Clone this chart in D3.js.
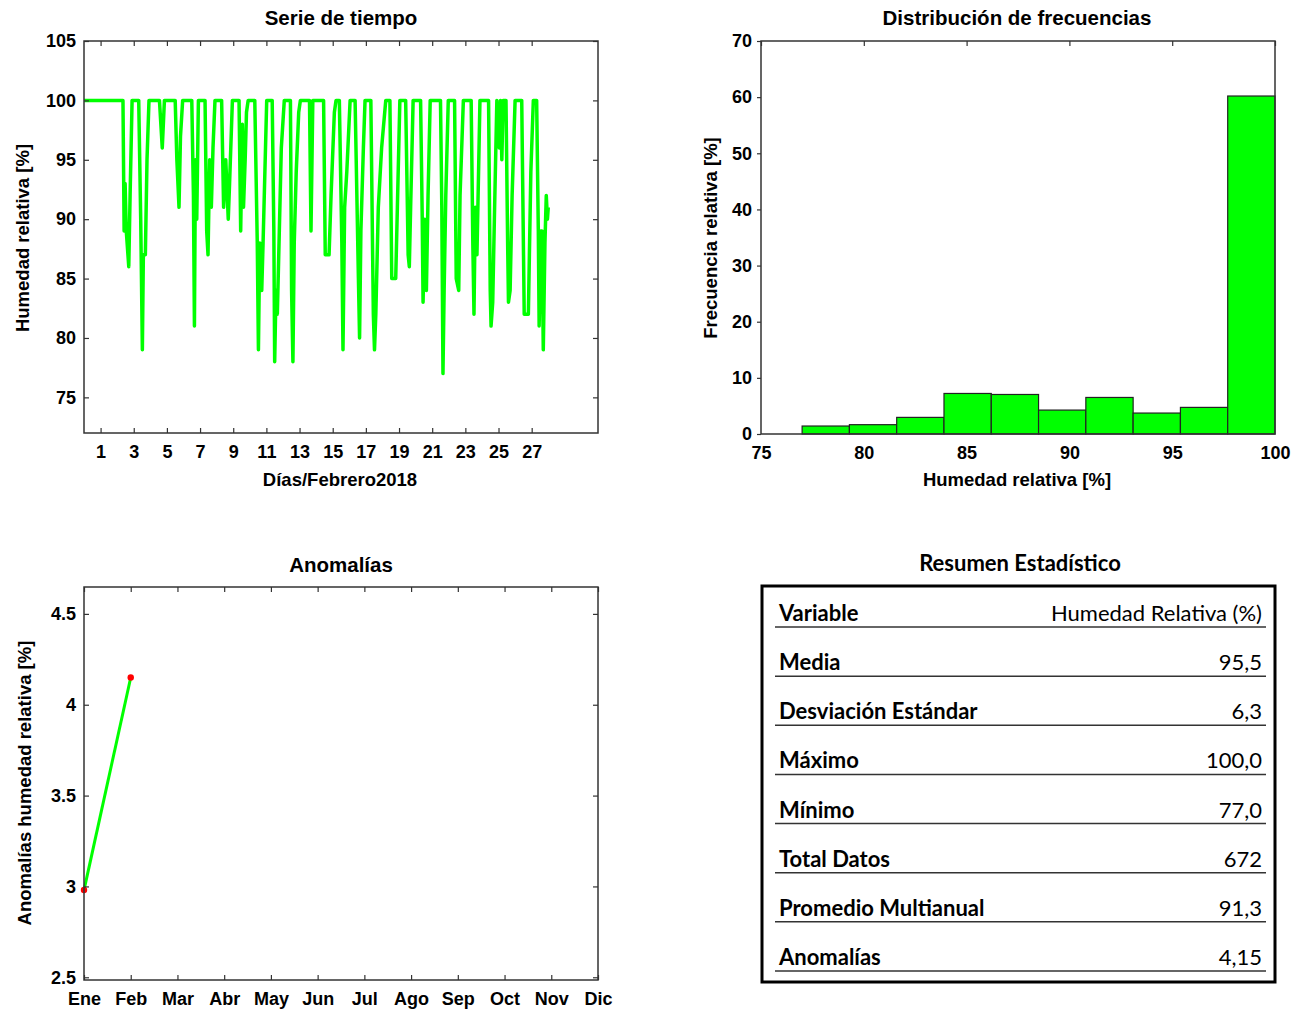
<!DOCTYPE html>
<html>
<head>
<meta charset="utf-8">
<script src="https://cdn.jsdelivr.net/npm/d3@7"></script>
<style>
body { margin: 0; background: #fff; }
svg text { font-family: "Liberation Sans", Arial, sans-serif; }
.tbl { font-family: Lato, "Open Sans", sans-serif !important; }
</style>
</head>
<body>
<svg id="chart" width="1296" height="1012"></svg>
<script>
// serie de tiempo: vertices (dia, humedad %)
var tsDay = [0,2.35,2.42,2.48,2.55,2.7,2.78,2.9,3.3,3.42,3.52,3.58,3.7,3.8,3.92,4.55,4.72,4.85,5.5,5.6,5.73,5.82,5.95,
  6.5,6.6,6.66,6.72,6.8,6.9,7.3,7.4,7.48,7.58,7.68,7.78,7.9,8.3,8.42,8.55,8.7,8.78,8.95,9.35,9.45,9.55,9.62,9.72,9.8,9.9,
  10.3,10.45,10.52,10.6,10.72,10.8,11.02,11.35,11.45,11.5,11.58,11.66,11.78,11.9,12.08,12.45,12.52,12.6,12.68,12.8,12.95,13.05,
  13.6,13.69,13.8,14.45,14.55,14.78,14.9,15.1,15.2,15.4,15.55,15.62,15.72,15.85,16.05,16.35,16.55,16.62,16.7,16.85,16.95,
  17.3,17.45,17.52,17.6,17.75,17.95,18.2,18.45,18.56,18.8,18.9,19.05,19.4,19.55,19.62,19.7,19.85,20.3,20.4,20.45,20.55,20.65,20.75,20.88,
  21.5,21.58,21.65,21.72,21.82,21.97,22.35,22.45,22.6,22.68,22.88,23.35,23.45,23.52,23.6,23.7,23.88,24.4,24.5,24.55,24.65,24.75,24.9,
  25.05,25.12,25.2,25.28,25.45,25.55,25.6,25.7,25.82,26.0,26.4,26.55,26.8,26.95,27.1,27.3,27.4,27.45,27.55,27.62,27.7,27.8,27.88,27.95,28.0];
var tsHum = [100,100,89,93,89,86,92,100,100,90,79,87,87,95,100,100,96,100,100,95,91,97,100,
  100,92,81,95,90,100,100,89,87,95,91,96,100,100,91,95,90,93,100,100,89,98,91,95,99,100,
  100,88,79,88,84,88,100,100,89,78,84,82,89,96,100,100,84,78,88,94,99,100,
  100,89,100,100,87,87,92,99,100,100,88,79,91,94,100,100,85,80,89,96,100,
  100,82,79,82,91,96,100,100,85,85,91,100,100,87,86,91,100,100,90,83,90,84,92,100,
  100,91,77,84,92,100,100,85,84,92,100,100,88,82,91,87,100,100,84,81,83,90,100,
  96,100,95,100,100,88,83,84,92,100,100,82,82,94,100,100,89,81,89,89,79,88,92,90,91];
var tsTicks = [1,3,5,7,9,11,13,15,17,19,21,23,25,27];
var tsYTicks = [75,80,85,90,95,100,105];

// distribucion de frecuencias
var binEdges = [77,79.3,81.6,83.9,86.2,88.5,90.8,93.1,95.4,97.7,100];
var binFreq = [1.42,1.66,2.96,7.22,7.04,4.26,6.51,3.73,4.74,60.2];
var histXTicks = [75,80,85,90,95,100];
var histYTicks = [0,10,20,30,40,50,60,70];

// anomalias
var months = ["Ene","Feb","Mar","Abr","May","Jun","Jul","Ago","Sep","Oct","Nov","Dic"];
var anomalies = [2.98, 4.15];
var anomYTicks = [2.5,3,3.5,4,4.5];

// resumen estadistico
var statLabels = ["Variable","Media","Desviación Estándar","Máximo","Mínimo","Total Datos","Promedio Multianual","Anomalías"];
var statValues = ["Humedad Relativa (%)","95,5","6,3","100,0","77,0","672","91,3","4,15"];

var svg = d3.select("#chart");
var green = "#00ff00";

function frame(g, w, h) {
  g.append("rect").attr("width", w).attr("height", h)
    .attr("fill", "none").attr("stroke", "#333").attr("stroke-width", 1.5);
}
function styleAxis(sel, showText) {
  sel.select(".domain").remove();
  sel.selectAll(".tick line").attr("stroke", "#333").attr("stroke-width", 1.2);
  sel.selectAll("text").attr("fill", "#000").attr("font-size", 18).attr("font-weight", "bold")
    .style("display", showText ? null : "none");
}
function title(txt, x, y) {
  svg.append("text").text(txt).attr("x", x).attr("y", y).attr("text-anchor", "middle")
    .attr("font-size", 20.5).attr("font-weight", "bold");
}
function ylab(txt, x, y) {
  svg.append("text").text(txt).attr("transform", "translate(" + x + "," + y + ") rotate(-90)")
    .attr("text-anchor", "middle").attr("font-size", 18.5).attr("font-weight", "bold");
}

// ---- panel 1: serie de tiempo
var p1 = {x: 84, y: 41, w: 514, h: 392};
var g1 = svg.append("g").attr("transform", "translate(" + p1.x + "," + p1.y + ")");
var x1 = d3.scaleLinear().domain([0, 31]).range([0, p1.w]);
var y1 = d3.scaleLinear().domain([72, 105]).range([p1.h, 0]);
g1.append("path")
  .datum(d3.range(tsDay.length))
  .attr("fill", "none").attr("stroke", green).attr("stroke-width", 3.5).attr("stroke-linejoin", "round")
  .attr("d", d3.line().x(function(i) { return x1(tsDay[i]); }).y(function(i) { return y1(tsHum[i]); }));
g1.append("g").attr("transform", "translate(0," + p1.h + ")")
  .call(d3.axisBottom(x1).tickValues(tsTicks).tickSize(-5).tickPadding(12)).call(styleAxis, true);
g1.append("g").call(d3.axisTop(x1).tickValues(tsTicks).tickSize(-5)).call(styleAxis, false);
g1.append("g").call(d3.axisLeft(y1).tickValues(tsYTicks).tickSize(-5).tickPadding(8)).call(styleAxis, true);
g1.append("g").attr("transform", "translate(" + p1.w + ",0)")
  .call(d3.axisRight(y1).tickValues(tsYTicks).tickSize(-5)).call(styleAxis, false);
frame(g1, p1.w, p1.h);
title("Serie de tiempo", 341, 25);
ylab("Humedad relativa [%]", 29, 238);
svg.append("text").text("Días/Febrero2018").attr("x", 340).attr("y", 486).attr("text-anchor", "middle")
  .attr("font-size", 18.5).attr("font-weight", "bold");

// ---- panel 2: histograma
var p2 = {x: 761, y: 41, w: 514, h: 393};
var g2 = svg.append("g").attr("transform", "translate(" + p2.x + "," + p2.y + ")");
var x2 = d3.scaleLinear().domain([75, 100]).range([0, p2.w]);
var y2 = d3.scaleLinear().domain([0, 70]).range([p2.h, 0]);
g2.selectAll("rect.bar").data(binFreq).enter().append("rect").attr("class", "bar")
  .attr("x", function(d, i) { return x2(binEdges[i]); })
  .attr("width", function(d, i) { return x2(binEdges[i + 1]) - x2(binEdges[i]); })
  .attr("y", function(d) { return y2(d); })
  .attr("height", function(d) { return p2.h - y2(d); })
  .attr("fill", green).attr("stroke", "#222").attr("stroke-width", 1.2);
g2.append("g").attr("transform", "translate(0," + p2.h + ")")
  .call(d3.axisBottom(x2).tickValues(histXTicks).tickSize(0).tickPadding(12)).call(styleAxis, true);
g2.append("g").call(d3.axisTop(x2).tickValues(histXTicks).tickSize(-5)).call(styleAxis, false);
g2.append("g").call(d3.axisLeft(y2).tickValues(histYTicks).tickSize(4).tickPadding(5)).call(styleAxis, true);
g2.append("path").attr("d", "M0,0H" + p2.w + "V" + p2.h + "H0Z")
  .attr("fill", "none").attr("stroke", "#333").attr("stroke-width", 1.5);
title("Distribución de frecuencias", 1017, 25);
ylab("Frecuencia relativa [%]", 717, 238);
svg.append("text").text("Humedad relativa [%]").attr("x", 1017).attr("y", 486).attr("text-anchor", "middle")
  .attr("font-size", 18.5).attr("font-weight", "bold");

// ---- panel 3: anomalias
var p3 = {x: 84, y: 587, w: 514, h: 393};
var g3 = svg.append("g").attr("transform", "translate(" + p3.x + "," + p3.y + ")");
var x3 = d3.scalePoint().domain(months).range([0, p3.w]);
var y3 = d3.scaleLinear().domain([2.485, 4.648]).range([p3.h, 0]);
g3.append("path").datum(anomalies)
  .attr("fill", "none").attr("stroke", green).attr("stroke-width", 3)
  .attr("d", d3.line().x(function(d, i) { return x3(months[i]); }).y(function(d) { return y3(d); }));
g3.selectAll("circle").data(anomalies).enter().append("circle")
  .attr("cx", function(d, i) { return x3(months[i]); }).attr("cy", function(d) { return y3(d); })
  .attr("r", 3.2).attr("fill", "#ff0000");
g3.append("g").attr("transform", "translate(0," + p3.h + ")")
  .call(d3.axisBottom(x3).tickSize(-5).tickPadding(12)).call(styleAxis, true);
g3.append("g").call(d3.axisTop(x3).tickSize(-5)).call(styleAxis, false);
g3.append("g").call(d3.axisLeft(y3).tickValues(anomYTicks).tickFormat(d3.format("")).tickSize(-5).tickPadding(8)).call(styleAxis, true);
g3.append("g").attr("transform", "translate(" + p3.w + ",0)")
  .call(d3.axisRight(y3).tickValues(anomYTicks).tickSize(-5)).call(styleAxis, false);
frame(g3, p3.w, p3.h);
title("Anomalías", 341, 572);
ylab("Anomalías humedad relativa [%]", 31, 783);

// ---- panel 4: tabla resumen
svg.append("text").text("Resumen Estadístico").attr("class", "tbl")
  .attr("x", 1020).attr("y", 571).attr("text-anchor", "middle")
  .attr("font-size", 22).attr("font-weight", "bold");
svg.append("rect").attr("x", 762).attr("y", 586).attr("width", 513).attr("height", 396)
  .attr("fill", "none").attr("stroke", "#000").attr("stroke-width", 3);
var rowY = d3.scaleLinear().domain([0, statLabels.length - 1]).range([627, 971]);
var rows = svg.selectAll("g.row").data(statLabels).enter().append("g").attr("class", "row")
  .attr("transform", function(d, i) { return "translate(0," + rowY(i) + ")"; });
rows.append("line").attr("x1", 775).attr("x2", 1266).attr("stroke", "#333").attr("stroke-width", 1.5);
rows.append("text").attr("class", "tbl").text(function(d) { return d; })
  .attr("x", 779).attr("y", -6).attr("font-size", 22).attr("font-weight", "bold");
rows.append("text").attr("class", "tbl").text(function(d, i) { return statValues[i]; })
  .attr("x", 1262).attr("y", -6).attr("text-anchor", "end").attr("font-size", 22);
</script>
</body>
</html>
